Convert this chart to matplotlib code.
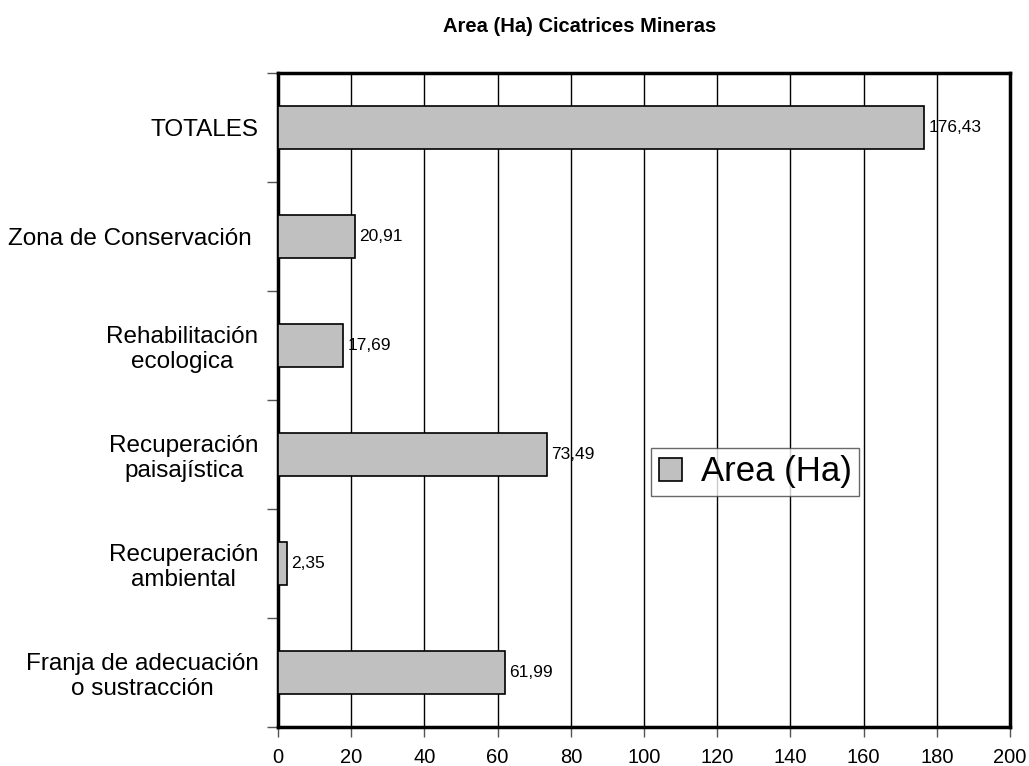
import matplotlib.pyplot as plt
import numpy as np

plt.rcParams['font.family'] = ['Liberation Sans', 'DejaVu Sans']

# categories listed bottom to top
categorias = ['Franja de adecuación\no sustracción',
              'Recuperación\nambiental',
              'Recuperación\npaisajística',
              'Rehabilitación\necologica',
              'Zona de Conservación ',
              'TOTALES']
area_ha = [61.99, 2.35, 73.49, 17.69, 20.91, 176.43]
x_ticks = [0, 20, 40, 60, 80, 100, 120, 140, 160, 180, 200]

fig = plt.figure(figsize=(10.29, 7.66), dpi=100)
ax = fig.add_axes([0.2702, 0.0509, 0.7114, 0.8538])

pos = np.arange(len(categorias))
bars = ax.barh(pos, area_ha, height=0.4, color='#c0c0c0', edgecolor='black',
               linewidth=1.2, label='Area (Ha)', zorder=3)

# value labels with comma decimal
for y, v in zip(pos, area_ha):
    ax.text(v + 1.2, y, f'{v:.2f}'.replace('.', ','), va='center', ha='left',
            fontsize=12.5, zorder=4)

ax.set_xlim(0, 200)
ax.set_ylim(-0.5, len(categorias) - 0.5)
ax.set_xticks(x_ticks)
ax.set_xticklabels([str(t) for t in x_ticks], fontsize=14.5)
ax.tick_params(axis='x', length=7, width=1, color='#555555', pad=8)

ax.set_yticks(pos)
ax.set_yticklabels(categorias, fontsize=17.5, ha='right', multialignment='center')
ax.tick_params(axis='y', which='major', length=0, pad=14)
ax.set_yticks(np.arange(len(categorias) + 1) - 0.5, minor=True)
ax.tick_params(axis='y', which='minor', length=8, width=1, color='#555555')

ax.grid(axis='x', color='black', linewidth=1, zorder=0)
for s in ax.spines.values():
    s.set_linewidth(2.5)
    s.set_color('black')

leg = ax.legend(loc='upper left', bbox_to_anchor=(0.51, 0.427), fontsize=25,
                frameon=True, fancybox=False, borderpad=0.22, handlelength=0.65,
                handleheight=0.65, handletextpad=0.55, borderaxespad=0)
leg.get_frame().set_edgecolor('#444444')
leg.get_frame().set_linewidth(1)

fig.text(0.563, 0.965, 'Area (Ha) Cicatrices Mineras', ha='center', va='center',
         fontsize=14.5, fontweight='bold')

fig.savefig('out.png', dpi=100)
